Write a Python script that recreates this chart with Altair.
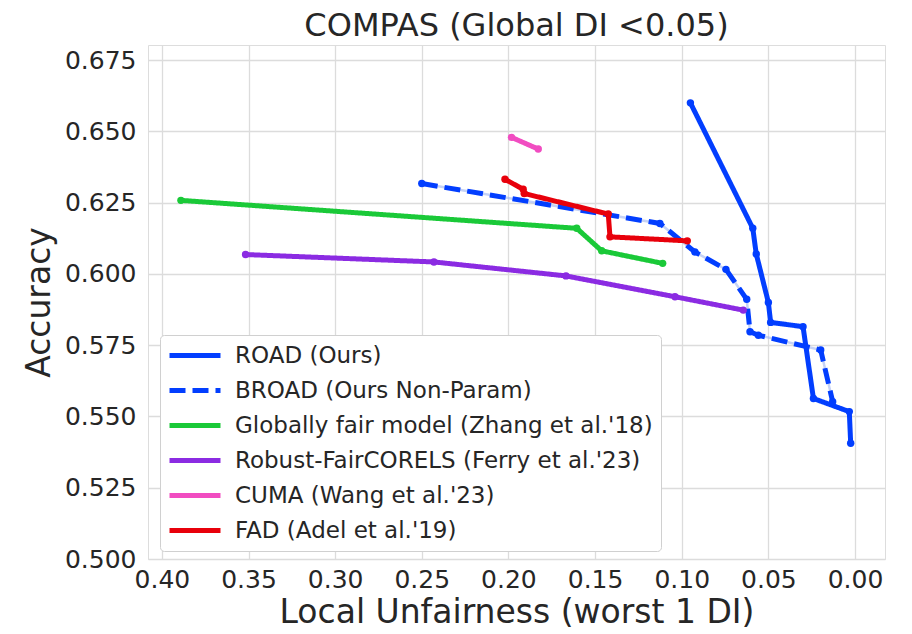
import altair as alt
import pandas as pd

series_names = [
    "ROAD (Ours)",
    "BROAD (Ours Non-Param)",
    "Globally fair model (Zhang et al.'18)",
    "Robust-FairCORELS (Ferry et al.'23)",
    "CUMA (Wang et al.'23)",
    "FAD (Adel et al.'19)",
]
series_colors = ["#023eff", "#023eff", "#1ac938", "#8b2be2", "#f14cc1", "#e8000b"]
series_dash = [[1, 0], [16, 7], [1, 0], [1, 0], [1, 0], [1, 0]]

road_x = [0.095, 0.059, 0.057, 0.050, 0.0487, 0.030, 0.024, 0.0033, 0.0025]
road_y = [0.660, 0.616, 0.607, 0.590, 0.583, 0.5815, 0.5563, 0.5517, 0.5406]

broad_x = [0.250, 0.1126, 0.0924, 0.0745, 0.0625, 0.0606, 0.0558, 0.0198, 0.0129]
broad_y = [0.6317, 0.6177, 0.6077, 0.6016, 0.5911, 0.5797, 0.5785, 0.5733, 0.5552]

green_x = [0.389, 0.1606, 0.1462, 0.111]
green_y = [0.6258, 0.616, 0.6081, 0.6037]

purple_x = [0.3517, 0.243, 0.1668, 0.1039, 0.0645]
purple_y = [0.6068, 0.6042, 0.5993, 0.5920, 0.5873]

pink_x = [0.1982, 0.1828]
pink_y = [0.6479, 0.6438]

red_x = [0.2020, 0.1915, 0.1909, 0.1424, 0.1414, 0.0968]
red_y = [0.6332, 0.6297, 0.6282, 0.6210, 0.6130, 0.6116]

x_ticks = [0.40, 0.35, 0.30, 0.25, 0.20, 0.15, 0.10, 0.05, 0.00]
y_ticks = [0.500, 0.525, 0.550, 0.575, 0.600, 0.625, 0.650, 0.675]

all_x = [road_x, broad_x, green_x, purple_x, pink_x, red_x]
all_y = [road_y, broad_y, green_y, purple_y, pink_y, red_y]

rows = []
for s, name in enumerate(series_names):
    for i, (xv, yv) in enumerate(zip(all_x[s], all_y[s])):
        rows.append({"series": name, "sidx": s, "idx": i, "x": xv, "y": yv})
df = pd.DataFrame(rows)

FONT = "DejaVu Sans"
TXT = "#262626"

xenc = alt.X("x:Q", scale=alt.Scale(domain=[0.408, -0.0173], nice=False, zero=False),
             axis=alt.Axis(values=x_ticks, format=".2f", title="Local Unfairness (worst 1 DI)",
                           titleFontSize=33, labelFontSize=25, titlePadding=4, labelPadding=8,
                           ticks=False, domain=False, labelFont=FONT, titleFont=FONT,
                           labelColor=TXT, titleColor=TXT, titleFontWeight="normal",
                           gridColor="#dcdcdc", gridWidth=1.3))
yenc = alt.Y("y:Q", scale=alt.Scale(domain=[0.500, 0.6803], nice=False, zero=False),
             axis=alt.Axis(values=y_ticks, format=".3f", title="Accuracy",
                           titleFontSize=33, labelFontSize=25, titlePadding=8, labelPadding=12,
                           ticks=False, domain=False, labelFont=FONT, titleFont=FONT,
                           labelColor=TXT, titleColor=TXT, titleFontWeight="normal",
                           gridColor="#dcdcdc", gridWidth=1.3))

color_enc = alt.Color("series:N", scale=alt.Scale(domain=series_names, range=series_colors),
                      sort=series_names,
                      legend=alt.Legend(title=None, orient="none", legendX=12, legendY=290,
                                        symbolType="M-1.1,0H4", symbolStrokeWidth=5, symbolSize=400,
                                        symbolFillColor="transparent",
                                        labelFontSize=23, labelFont=FONT, labelColor=TXT,
                                        rowPadding=10, labelOffset=42, padding=8,
                                        fillColor="white", strokeColor="#d0d0d0",
                                        cornerRadius=4, labelLimit=700))
dash_enc = alt.StrokeDash("series:N", scale=alt.Scale(domain=series_names, range=series_dash),
                          sort=series_names, legend=alt.Legend(title=None))

under = alt.Chart(df[df["series"] == series_names[1]]).mark_line(
    color="#9fb4f0", strokeWidth=2.5, opacity=0.6
).encode(x=xenc, y=yenc, order="idx:Q")

lines = alt.Chart(df).mark_line(strokeWidth=5).encode(
    x=xenc, y=yenc, color=color_enc, strokeDash=dash_enc, order="idx:Q",
    detail="sidx:O"
)

points = alt.Chart(df).mark_circle(size=55, opacity=1).encode(
    x=xenc, y=yenc,
    color=alt.Color("series:N", scale=alt.Scale(domain=series_names, range=series_colors), legend=None),
)

chart = alt.layer(under, lines, points).properties(
    width=737, height=514,
    title=alt.TitleParams("COMPAS (Global DI <0.05)", fontSize=32, font=FONT, color=TXT,
                          fontWeight="normal", anchor="middle", offset=2),
    padding={"left": 140, "top": 37, "right": 10, "bottom": 70},
    autosize=alt.AutoSizeParams(type="none"),
).configure_view(stroke="#cccccc", strokeWidth=1.3).configure(background="white")

chart.save("out.html", embed_options={"renderer": "svg", "actions": False})
